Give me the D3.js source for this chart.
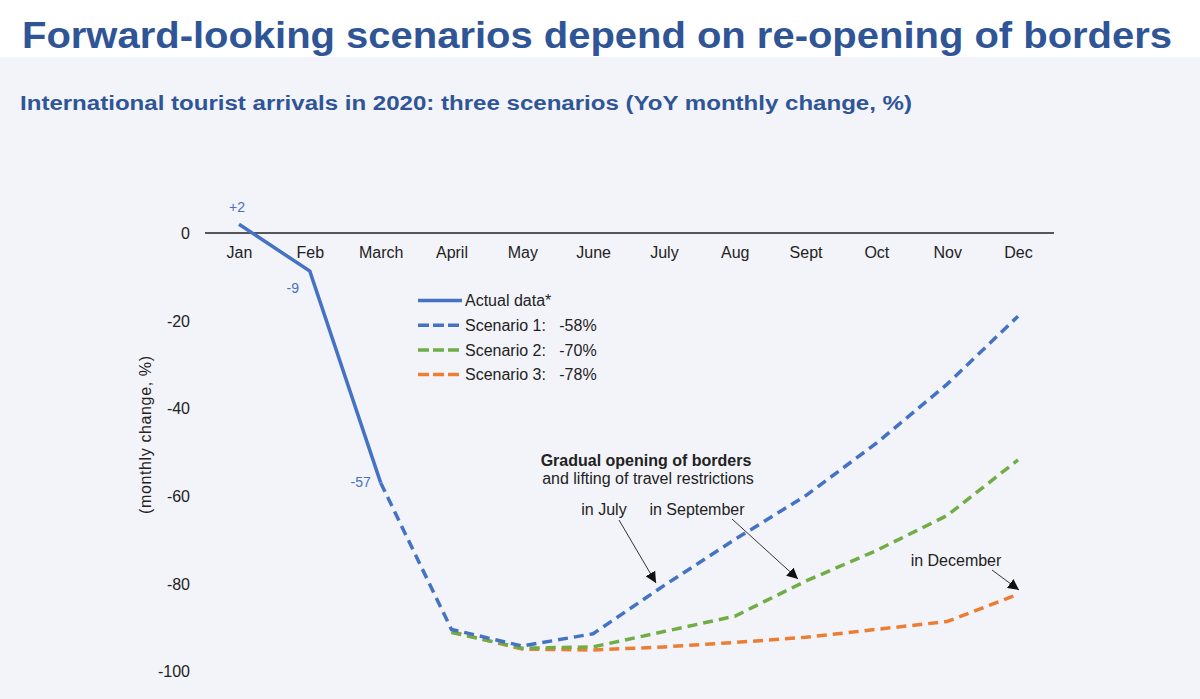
<!DOCTYPE html>
<html><head><meta charset="utf-8">
<script src="https://cdn.jsdelivr.net/npm/d3@7"></script>
<style>
html,body{margin:0;padding:0;background:#fff;}
svg{display:block;font-family:"Liberation Sans",Arial,sans-serif;}
</style></head>
<body>
<svg id="c" width="1200" height="699"></svg>
<script>
const months = ["Jan","Feb","March","April","May","June","July","Aug","Sept","Oct","Nov","Dec"];
const actual = [2, -8.7, -57];
const scenario1 = [null, null, -57, -90.5, -94.3, -91.5, -80.5, -70, -60, -48, -34.5, -19];
const scenario2 = [null, null, null, -91.2, -94.8, -94.5, -91, -87.5, -79.5, -72.5, -64.5, -51.8];
const scenario3 = [null, null, null, -91, -95, -95.2, -94.5, -93.5, -92.3, -90.5, -88.7, -82.5];
const yTicks = [0, -20, -40, -60, -80, -100];
const legendLabels = ["Actual data*", "Scenario 1:   -58%", "Scenario 2:   -70%", "Scenario 3:   -78%"];
const dataLabels = ["+2", "-9", "-57"];

const colors = {blue:"#4472c4", green:"#70ad47", orange:"#ed7d31"};
const svg = d3.select("#c");

// backgrounds
svg.append("rect").attr("x",0).attr("y",0).attr("width",1200).attr("height",699).attr("fill","#f3f4f9");
svg.append("rect").attr("x",0).attr("y",0).attr("width",1200).attr("height",57).attr("fill","#ffffff");

svg.append("text").attr("x",22).attr("y",48).attr("font-size",36).attr("font-weight","bold")
  .attr("fill","#2f5597").attr("textLength",1150).attr("lengthAdjust","spacingAndGlyphs")
  .text("Forward-looking scenarios depend on re-opening of borders");
svg.append("text").attr("x",20).attr("y",110).attr("font-size",20).attr("font-weight","bold")
  .attr("fill","#2f5597").attr("textLength",892).attr("lengthAdjust","spacingAndGlyphs")
  .text("International tourist arrivals in 2020: three scenarios (YoY monthly change, %)");

const x = d3.scalePoint().domain(months).range([239, 1018]);
const y = d3.scaleLinear().domain([-100, 0]).range([671, 233]);

// y tick labels
const yAxis = d3.axisLeft(y).tickValues(yTicks).tickSize(0).tickPadding(0).tickFormat(d => String(d));
const ga = svg.append("g").attr("transform","translate(190,0)").call(yAxis);
ga.select(".domain").remove();
ga.selectAll("text").attr("font-size",16).attr("fill","#222").attr("font-family","Liberation Sans, Arial, sans-serif").attr("dy","0.35em");

// zero line
svg.append("line").attr("x1",205).attr("x2",1054).attr("y1",y(0)).attr("y2",y(0)).attr("stroke","#222").attr("stroke-width",1.5);

// x labels
const xAxis = d3.axisBottom(x).tickSize(0).tickPadding(0);
const gx = svg.append("g").attr("transform",`translate(0,${y(0)+25})`).call(xAxis);
gx.select(".domain").remove();
gx.selectAll("text").attr("font-size",16).attr("fill","#222").attr("font-family","Liberation Sans, Arial, sans-serif").attr("dy","0");

// y axis title
svg.append("text").attr("transform","translate(151,435) rotate(-90)").attr("text-anchor","middle")
  .attr("font-size",16).attr("fill","#222").attr("textLength",158).attr("lengthAdjust","spacing")
  .text("(monthly change, %)");

const line = d3.line().defined(d => d.v !== null).x(d => x(d.m)).y(d => y(d.v));
const toPts = arr => arr.map((v,i) => ({m: months[i], v}));

function drawDashed(arr, color){
  svg.append("path").datum(toPts(arr)).attr("d", line).attr("fill","none")
    .attr("stroke", color).attr("stroke-width",3.5).attr("stroke-dasharray","10,6");
}
drawDashed(scenario3, colors.orange);
drawDashed(scenario2, colors.green);
drawDashed(scenario1, colors.blue);
svg.append("path").datum(toPts(actual)).attr("d", line).attr("fill","none")
  .attr("stroke", colors.blue).attr("stroke-width",3.5);

// data labels
const lblOff = [[-2,-17],[-17,17],[-20,-1]];
actual.forEach((v,i) => {
  svg.append("text").attr("x", x(months[i]) + lblOff[i][0]).attr("y", y(v) + lblOff[i][1])
    .attr("text-anchor","middle").attr("dy","0.35em").attr("font-size",14).attr("fill",colors.blue).text(dataLabels[i]);
});

// legend
const legColors = [colors.blue, colors.blue, colors.green, colors.orange];
legendLabels.forEach((t,i) => {
  const ly = 300.5 + i*24.7;
  svg.append("line").attr("x1",418).attr("x2",462).attr("y1",ly).attr("y2",ly)
    .attr("stroke",legColors[i]).attr("stroke-width",3.5).attr("stroke-dasharray", i===0 ? null : "11,4");
  svg.append("text").attr("x",465).attr("y",ly).attr("dy","0.35em").attr("font-size",16).attr("fill","#222")
    .attr("xml:space","preserve").style("white-space","pre").text(t);
});

// annotations
svg.append("defs").append("marker").attr("id","arr").attr("viewBox","0 0 10 10").attr("refX",10).attr("refY",5)
  .attr("markerWidth",11).attr("markerHeight",11).attr("markerUnits","userSpaceOnUse").attr("orient","auto")
  .append("path").attr("d","M0,0 L10,5 L0,10 z").attr("fill","#111");

svg.append("text").attr("x",646).attr("y",466).attr("text-anchor","middle").attr("font-size",16).attr("font-weight","bold").attr("fill","#222").text("Gradual opening of borders");
svg.append("text").attr("x",648).attr("y",484).attr("text-anchor","middle").attr("font-size",16).attr("fill","#222").text("and lifting of travel restrictions");
svg.append("text").attr("x",604).attr("y",515).attr("text-anchor","middle").attr("font-size",16).attr("fill","#222").text("in July");
svg.append("text").attr("x",697).attr("y",515).attr("text-anchor","middle").attr("font-size",16).attr("fill","#222").text("in September");
svg.append("text").attr("x",956).attr("y",566).attr("text-anchor","middle").attr("font-size",16).attr("fill","#222").text("in December");

const arrows = [[619,520,656,583],[732,519,798,579],[992,570,1019,590]];
arrows.forEach(a => {
  svg.append("line").attr("x1",a[0]).attr("y1",a[1]).attr("x2",a[2]).attr("y2",a[3])
    .attr("stroke","#333").attr("stroke-width",1).attr("marker-end","url(#arr)");
});
</script>
</body></html>
